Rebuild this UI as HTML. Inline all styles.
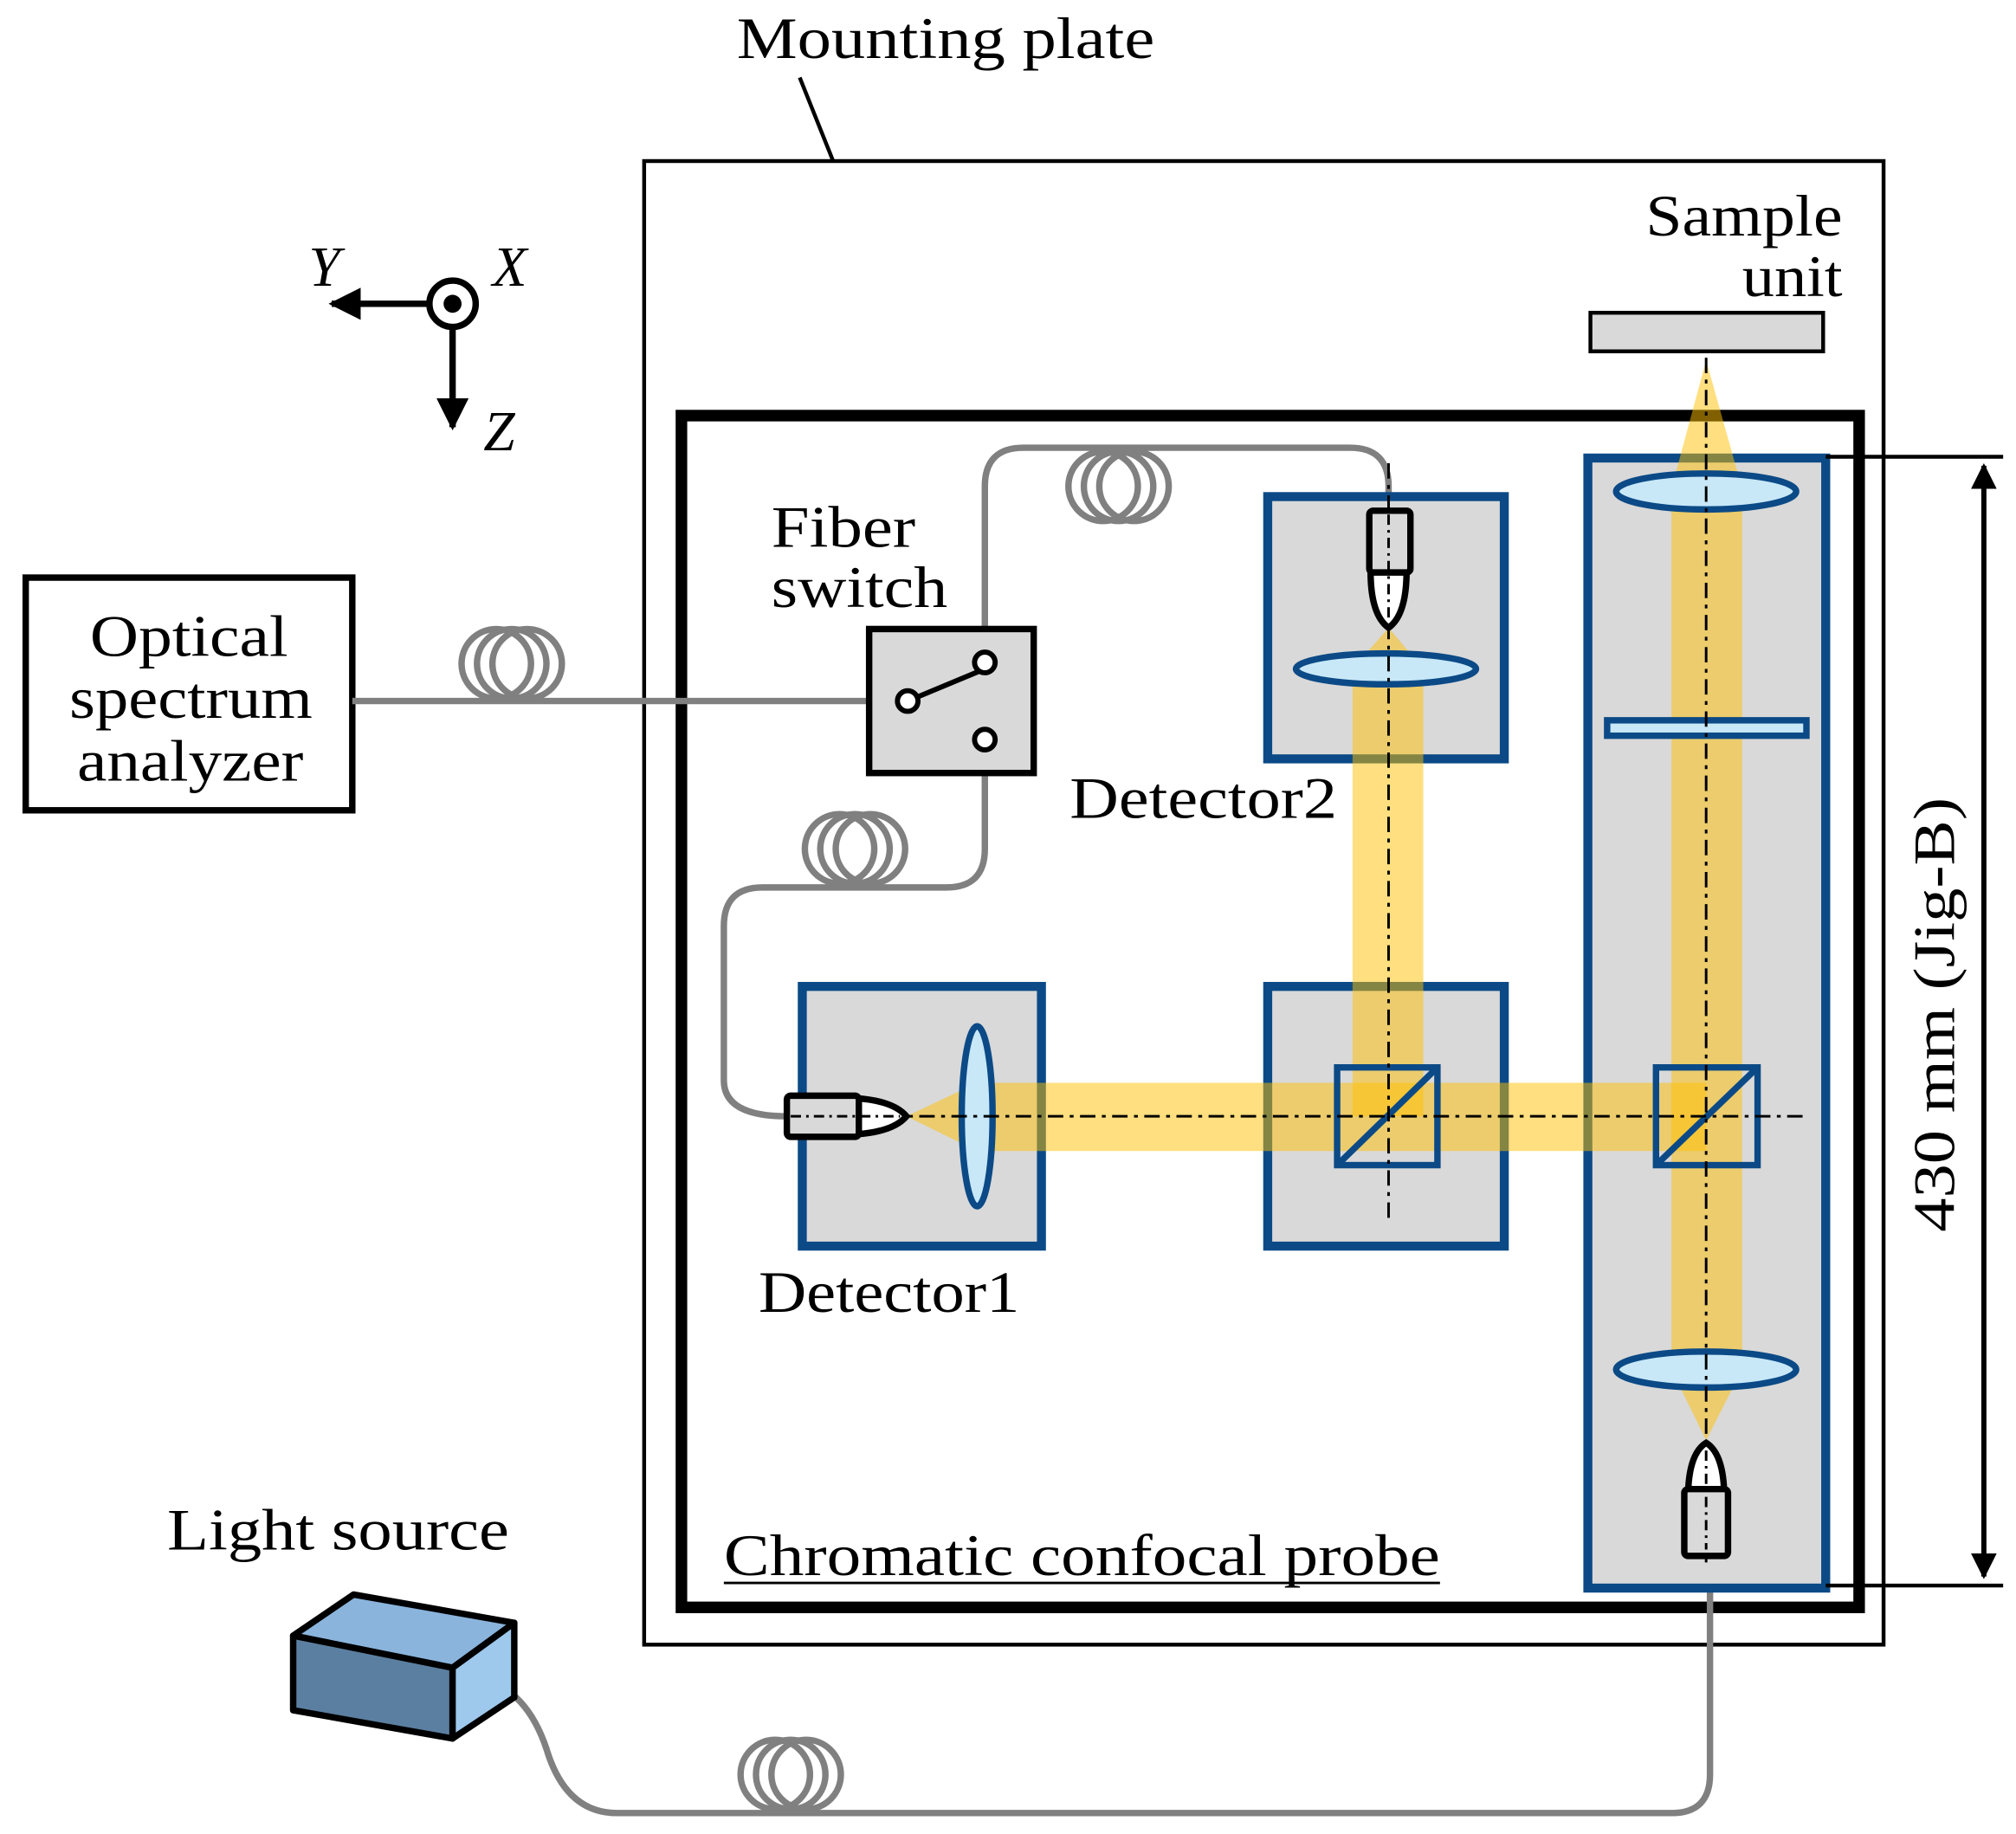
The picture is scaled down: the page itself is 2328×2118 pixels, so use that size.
<!DOCTYPE html>
<html><head><meta charset="utf-8"><style>html,body{margin:0;padding:0;background:#fff}svg{display:block}</style></head>
<body>
<svg width="2328" height="2118" viewBox="0 0 1568 1426" xmlns="http://www.w3.org/2000/svg" font-family="Liberation Serif, serif">
<defs>
<marker id="ah" viewBox="0 0 10 10" refX="9" refY="5" markerWidth="5" markerHeight="5" orient="auto-start-reverse"><path d="M0,0 L10,5 L0,10 z" fill="#000"/></marker>
</defs>
<rect width="1568" height="1426" fill="#fff"/>
<rect x="501" y="125" width="964" height="1154" fill="none" stroke="#000" stroke-width="3"/>
<text x="573" y="45" font-size="46" textLength="325" lengthAdjust="spacingAndGlyphs">Mounting plate</text>
<line x1="622" y1="60" x2="648" y2="125" stroke="#000" stroke-width="3"/>
<line x1="334" y1="236" x2="258" y2="236" stroke="#000" stroke-width="5" marker-end="url(#ah)"/>
<line x1="352" y1="254" x2="352" y2="332" stroke="#000" stroke-width="5" marker-end="url(#ah)"/>
<circle cx="352" cy="236" r="18" fill="#fff" stroke="#000" stroke-width="5"/>
<circle cx="352" cy="236" r="7" fill="#000"/>
<text x="240" y="222" font-size="44" font-style="italic">Y</text>
<text x="383" y="222" font-size="44" font-style="italic">X</text>
<text x="376" y="350" font-size="44" font-style="italic">Z</text>
<rect x="530" y="323" width="916" height="927" fill="none" stroke="#000" stroke-width="9"/>
<rect x="1237" y="243" width="181" height="30" fill="#d9d9d9" stroke="#000" stroke-width="3"/>
<text x="1280" y="183" font-size="46" textLength="153" lengthAdjust="spacingAndGlyphs">Sample</text>
<text x="1355" y="230" font-size="46" textLength="78" lengthAdjust="spacingAndGlyphs">unit</text>
<rect x="20" y="449" width="254" height="181" fill="#fff" stroke="#000" stroke-width="5"/>
<text x="70" y="510" font-size="46" textLength="154" lengthAdjust="spacingAndGlyphs">Optical</text>
<text x="54" y="558" font-size="46" textLength="189" lengthAdjust="spacingAndGlyphs">spectrum</text>
<text x="60" y="607" font-size="46" textLength="176" lengthAdjust="spacingAndGlyphs">analyzer</text>
<g fill="none" stroke="#808080" stroke-width="5">
<line x1="274" y1="545" x2="706" y2="545"/>
<circle cx="386" cy="516" r="27"/><circle cx="398" cy="516" r="27"/><circle cx="410" cy="516" r="27"/>
<path d="M766,515 L766,378 Q766,348 796,348 L1050,348 Q1080,348 1080,378 L1080,395"/>
<circle cx="858" cy="378" r="27"/><circle cx="870" cy="378" r="27"/><circle cx="882" cy="378" r="27"/>
<path d="M766,575 L766,660 Q766,690 736,690 L593,690 Q563,690 563,720 L563,840 Q563,868 612,868"/>
<circle cx="653" cy="660" r="27"/><circle cx="665" cy="660" r="27"/><circle cx="677" cy="660" r="27"/>
<path d="M375,1305 Q410,1315 425,1360 Q440,1410 480,1410 L1300,1410 Q1330,1410 1330,1380 L1330,1210"/>
<circle cx="603" cy="1380" r="27"/><circle cx="615" cy="1380" r="27"/><circle cx="627" cy="1380" r="27"/>
</g>
<rect x="676" y="489" width="128" height="112" fill="#d9d9d9" stroke="#000" stroke-width="5"/>
<line x1="706" y1="545" x2="766" y2="520" stroke="#000" stroke-width="4"/>
<circle cx="706" cy="545" r="8" fill="#fff" stroke="#000" stroke-width="4"/>
<circle cx="766" cy="515" r="8" fill="#fff" stroke="#000" stroke-width="4"/>
<circle cx="766" cy="575" r="8" fill="#fff" stroke="#000" stroke-width="4"/>
<text x="600" y="425" font-size="46" textLength="112" lengthAdjust="spacingAndGlyphs">Fiber</text>
<text x="600" y="472" font-size="46" textLength="137" lengthAdjust="spacingAndGlyphs">switch</text>
<g fill="#d9d9d9" stroke="#0b4a86" stroke-width="7">
<rect x="986" y="386" width="184" height="204"/>
<rect x="624" y="767" width="186" height="202"/>
<rect x="986" y="767" width="184" height="202"/>
<rect x="1235" y="356" width="185" height="879"/>
</g>
<g fill="#ffc000" fill-opacity="0.5">
<path d="M1327,280 L1355,380 L1355,1065 L1327,1120 L1300,1065 L1300,380 Z"/>
<path d="M705,868 L760,842 L1327,842 L1327,895 L760,895 Z"/>
<path d="M1080,488 L1107,520 L1107,868 L1052,868 L1052,520 Z"/>
</g>
<g fill="#c8e8f8" stroke="#0b4a86" stroke-width="5">
<ellipse cx="1078" cy="520" rx="70" ry="12"/>
<ellipse cx="760" cy="868" rx="12" ry="70"/>
<ellipse cx="1327" cy="382" rx="70" ry="14"/>
<ellipse cx="1327" cy="1065" rx="70" ry="14"/>
<rect x="1250" y="560" width="155" height="12"/>
</g>
<g fill="none" stroke="#0b4a86" stroke-width="5">
<rect x="1040" y="830" width="78" height="76"/><line x1="1040" y1="906" x2="1118" y2="830"/>
<rect x="1288" y="830" width="79" height="76"/><line x1="1288" y1="906" x2="1367" y2="830"/>
</g>
<g stroke="#000" stroke-width="2" stroke-dasharray="12,5,3,5" fill="none">
<line x1="1327" y1="278" x2="1327" y2="1215"/>
<line x1="640" y1="868" x2="1405" y2="868"/>
<line x1="1080" y1="360" x2="1080" y2="950"/>
</g>
<g stroke="#000" stroke-width="5">
<path d="M1066,444 L1094,444 Q1094,478 1080,488 Q1066,478 1066,444 Z" fill="#fff"/>
<rect x="1065" y="397" width="32" height="48" rx="3" fill="#d9d9d9"/>
<path d="M666,854 Q695,856 705,868 Q695,880 666,882 Z" fill="#fff"/>
<rect x="612" y="852" width="56" height="32" rx="3" fill="#d9d9d9"/>
<path d="M1313,1160 Q1314,1130 1327,1122 Q1340,1130 1341,1160 Z" fill="#fff"/>
<rect x="1310" y="1158" width="34" height="52" rx="3" fill="#d9d9d9"/>
</g>
<g stroke="#000" stroke-width="2" stroke-dasharray="8,4,2,4"><line x1="1080" y1="400" x2="1080" y2="480"/><line x1="615" y1="868" x2="700" y2="868"/><line x1="1327" y1="1128" x2="1327" y2="1205"/></g>
<text x="832" y="636" font-size="46" textLength="208" lengthAdjust="spacingAndGlyphs">Detector2</text>
<text x="590" y="1020" font-size="46" textLength="203" lengthAdjust="spacingAndGlyphs">Detector1</text>
<line x1="1420" y1="355" x2="1558" y2="355" stroke="#000" stroke-width="3"/>
<line x1="1420" y1="1233" x2="1558" y2="1233" stroke="#000" stroke-width="3"/>
<line x1="1543" y1="362" x2="1543" y2="1226" stroke="#000" stroke-width="4" marker-start="url(#ah)" marker-end="url(#ah)"/>
<text transform="translate(1520,789) rotate(-90)" font-size="46" text-anchor="middle" textLength="338" lengthAdjust="spacingAndGlyphs">430 mm (Jig-B)</text>
<text x="563" y="1225" font-size="46" textLength="557" lengthAdjust="spacingAndGlyphs">Chromatic confocal probe</text>
<line x1="563" y1="1231" x2="1120" y2="1231" stroke="#000" stroke-width="2"/>
<text x="130" y="1205" font-size="46" textLength="266" lengthAdjust="spacingAndGlyphs">Light source</text>
<g stroke="#000" stroke-width="5" stroke-linejoin="round">
<polygon points="228,1272 275,1240 400,1262 352,1297" fill="#8ab4dc"/>
<polygon points="228,1272 352,1297 352,1352 228,1330" fill="#5b7fa0"/>
<polygon points="352,1297 400,1262 400,1320 352,1352" fill="#9ec8ec"/>
</g>
</svg>
</body></html>
